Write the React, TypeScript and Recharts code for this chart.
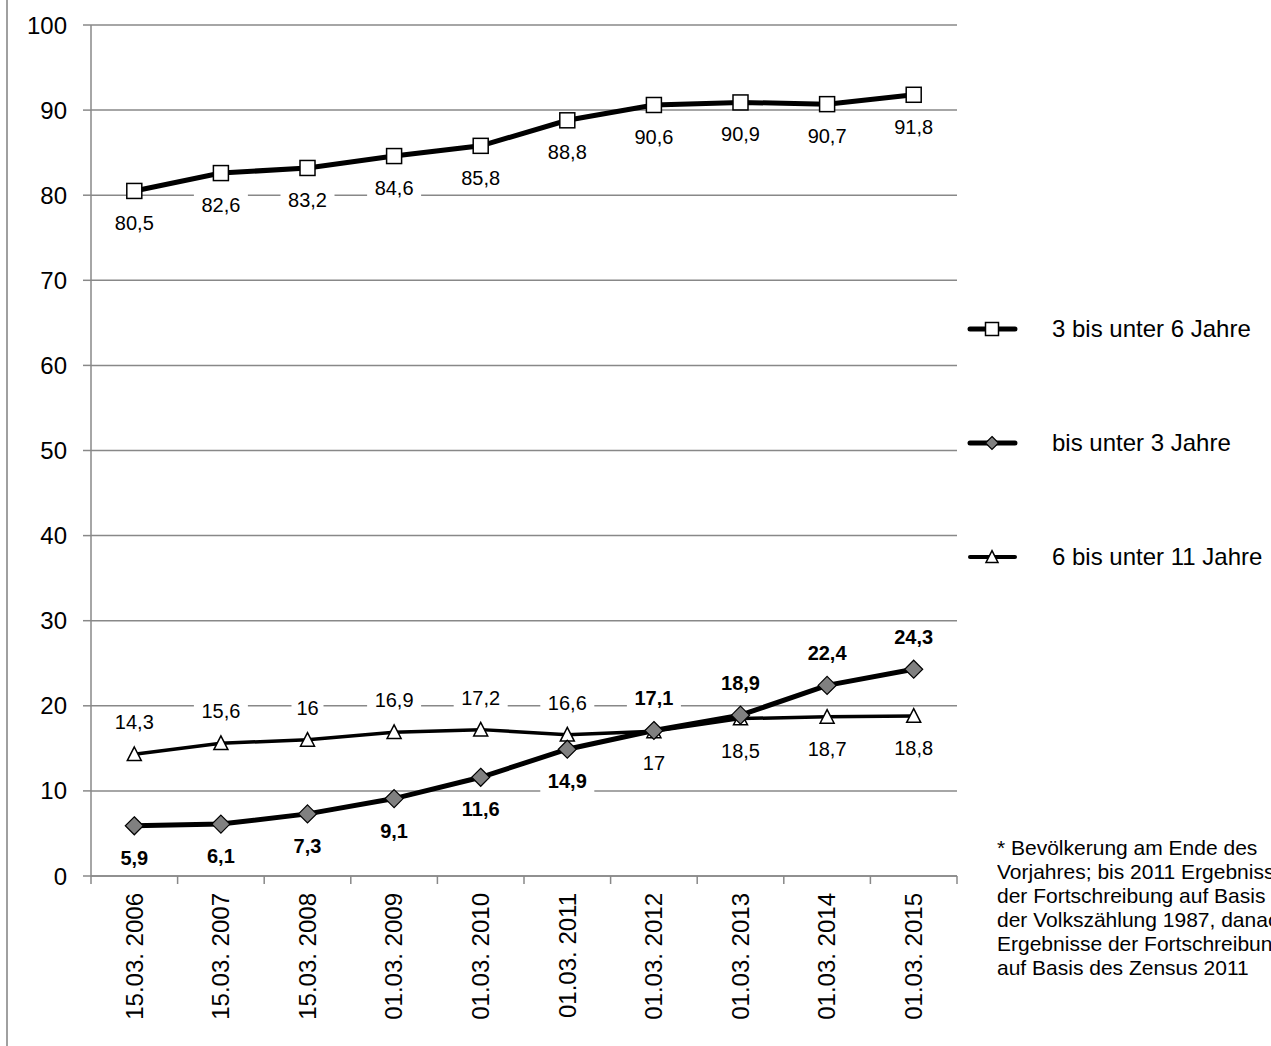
import { CartesianGrid, LabelList, Line, LineChart, XAxis, YAxis } from "recharts";

const dates = [
  "15.03. 2006",
  "15.03. 2007",
  "15.03. 2008",
  "01.03. 2009",
  "01.03. 2010",
  "01.03. 2011",
  "01.03. 2012",
  "01.03. 2013",
  "01.03. 2014",
  "01.03. 2015",
];
const age3to6 = [80.5, 82.6, 83.2, 84.6, 85.8, 88.8, 90.6, 90.9, 90.7, 91.8];
const under3 = [5.9, 6.1, 7.3, 9.1, 11.6, 14.9, 17.1, 18.9, 22.4, 24.3];
const age6to11 = [14.3, 15.6, 16, 16.9, 17.2, 16.6, 17, 18.5, 18.7, 18.8];
const yTicks = [0, 10, 20, 30, 40, 50, 60, 70, 80, 90, 100];
const footnote = [
  "* Bevölkerung am Ende des",
  "Vorjahres; bis 2011 Ergebnisse",
  "der Fortschreibung auf Basis",
  "der Volkszählung 1987, danach",
  "Ergebnisse der Fortschreibung",
  "auf Basis des Zensus 2011",
];

const data = dates.map((d, i) => ({ date: d, a: age3to6[i], b: under3[i], c: age6to11[i] }));

const W = 1271;
const H = 1046;
const PLOT_L = 91;
const PLOT_R = 957;
const PLOT_T = 25;
const PLOT_B = 876;
const HALF_BAND = (PLOT_R - PLOT_L) / dates.length / 2;
const GRID = "#888888";
const FONT = "'Liberation Sans', Arial, sans-serif";

const fmt = (v: number) => String(v).replace(".", ",");

function Square({ cx, cy, s = 15 }: any) {
  return <rect x={cx - s / 2} y={cy - s / 2} width={s} height={s} fill="#fff" stroke="#000" strokeWidth={1.5} />;
}
function Diamond({ cx, cy, s = 18 }: any) {
  const r = s / 2;
  return (
    <polygon
      points={`${cx},${cy - r} ${cx + r},${cy} ${cx},${cy + r} ${cx - r},${cy}`}
      fill="#808080"
      stroke="#000"
      strokeWidth={1.2}
    />
  );
}
function Triangle({ cx, cy, s = 14 }: any) {
  const h = s * 0.9;
  return (
    <polygon
      points={`${cx},${cy - h / 2 - 1} ${cx + s / 2},${cy + h / 2} ${cx - s / 2},${cy + h / 2}`}
      fill="#fff"
      stroke="#000"
      strokeWidth={1.5}
    />
  );
}

function makeLabel(series: number[], other: number[] | null, bold: boolean) {
  return (props: any) => {
    const { x, y, index } = props;
    const v = series[index];
    const above = other ? v > other[index] : false;
    const text = fmt(v);
    const cy = above ? y - 32 : y + 32;
    const w = text.length * 11 + 10;
    return (
      <g>
        <rect x={x - w / 2} y={cy - 12} width={w} height={24} fill="#fff" />
        <text
          x={x}
          y={cy}
          dy="0.35em"
          textAnchor="middle"
          fontSize={20}
          fontFamily={FONT}
          fontWeight={bold ? "bold" : "normal"}
          fill="#000"
        >
          {text}
        </text>
      </g>
    );
  };
}

function DateTick(props: any) {
  const { x, payload, index } = props;
  return (
    <g>
      <line x1={x - HALF_BAND} x2={x - HALF_BAND} y1={PLOT_B} y2={PLOT_B + 8} stroke={GRID} strokeWidth={1.5} />
      {index === dates.length - 1 && (
        <line x1={x + HALF_BAND} x2={x + HALF_BAND} y1={PLOT_B} y2={PLOT_B + 8} stroke={GRID} strokeWidth={1.5} />
      )}
      <text
        x={x}
        y={893}
        dy="0.35em"
        transform={`rotate(-90 ${x} 893)`}
        textAnchor="end"
        fontSize={24}
        fontFamily={FONT}
        fill="#000"
      >
        {payload.value}
      </text>
    </g>
  );
}

const legendItems = [
  { name: "3 bis unter 6 Jahre", y: 329, width: 5, Marker: Square, size: 13 },
  { name: "bis unter 3 Jahre", y: 443, width: 5, Marker: Diamond, size: 13 },
  { name: "6 bis unter 11 Jahre", y: 557, width: 4, Marker: Triangle, size: 12 },
];

export default function App() {
  return (
    <div style={{ position: "absolute", left: 0, top: 0, width: W, height: H, background: "#fff", overflow: "hidden" }}>
      <div style={{ position: "absolute", left: 6, top: 0, width: 2, height: H, background: "#a0a0a0" }} />
      <LineChart width={W} height={H} data={data} margin={{ top: PLOT_T, right: W - PLOT_R, bottom: 0, left: 0 }}>
        <CartesianGrid vertical={false} stroke={GRID} strokeWidth={1.5} />
        <XAxis
          dataKey="date"
          interval={0}
          height={H - PLOT_B}
          padding={{ left: HALF_BAND, right: HALF_BAND }}
          axisLine={{ stroke: GRID, strokeWidth: 1.5 }}
          tickLine={false}
          tick={<DateTick />}
        />
        <YAxis
          width={PLOT_L}
          domain={[0, 100]}
          ticks={yTicks}
          interval={0}
          tickSize={8}
          tickMargin={16}
          axisLine={{ stroke: GRID, strokeWidth: 1.5 }}
          tickLine={{ stroke: GRID, strokeWidth: 1.5 }}
          tick={{ fontSize: 24, fontFamily: FONT, fill: "#000" }}
        />
        <Line
          dataKey="c"
          stroke="#000"
          strokeWidth={3.5}
          isAnimationActive={false}
          dot={(p: any) => <Triangle key={p.index} cx={p.cx} cy={p.cy} />}
        >
          <LabelList dataKey="c" content={makeLabel(age6to11, under3, false)} />
        </Line>
        <Line
          dataKey="b"
          stroke="#000"
          strokeWidth={5}
          isAnimationActive={false}
          dot={(p: any) => <Diamond key={p.index} cx={p.cx} cy={p.cy} />}
        >
          <LabelList dataKey="b" content={makeLabel(under3, age6to11, true)} />
        </Line>
        <Line
          dataKey="a"
          stroke="#000"
          strokeWidth={5}
          isAnimationActive={false}
          dot={(p: any) => <Square key={p.index} cx={p.cx} cy={p.cy} />}
        >
          <LabelList dataKey="a" content={makeLabel(age3to6, null, false)} />
        </Line>
      </LineChart>
      <svg style={{ position: "absolute", left: 0, top: 0 }} width={W} height={H} pointerEvents="none">
        {legendItems.map(({ name, y, width, Marker, size }) => (
          <g key={name}>
            <line x1={970} x2={1015} y1={y} y2={y} stroke="#000" strokeWidth={width} strokeLinecap="round" />
            <Marker cx={992} cy={y} s={size} />
            <text x={1052} y={y} dy="0.35em" fontSize={24} fontFamily={FONT} fill="#000">
              {name}
            </text>
          </g>
        ))}
      </svg>
      <div
        style={{
          position: "absolute",
          left: 997,
          top: 836,
          width: W - 997,
          overflow: "hidden",
          whiteSpace: "nowrap",
          fontFamily: FONT,
          fontSize: 21,
          lineHeight: "24px",
          color: "#000",
        }}
      >
        {footnote.map((l) => (
          <div key={l}>{l}</div>
        ))}
      </div>
    </div>
  );
}
